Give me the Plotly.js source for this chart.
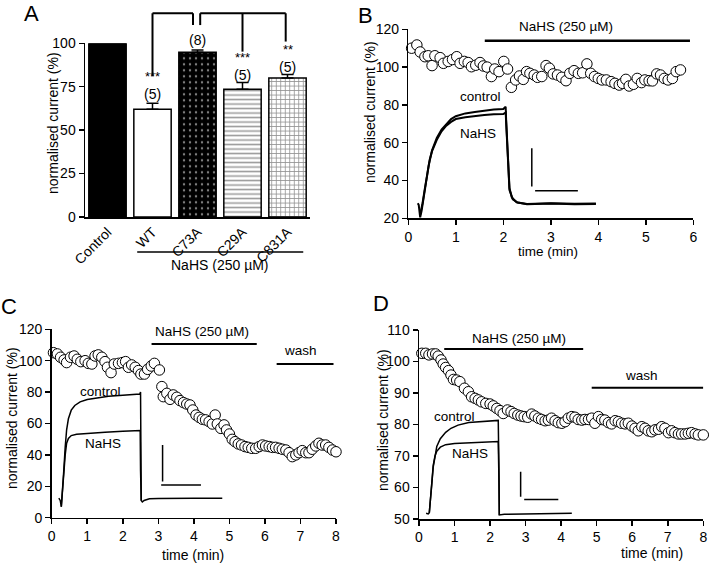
<!DOCTYPE html>
<html>
<head>
<meta charset="utf-8">
<script src="https://cdn.plot.ly/plotly-3.0.1.min.js"></script>
<style>
	html, body { margin: 0; padding: 0; background: #fff; }
	#plot { width: 709px; height: 565px; }
</style>
</head>
<body>
<div id="plot"></div>
<script>
	'use strict';

	// ---- Panel A: bar summary ----
	const aCategories = ['Control', 'WT', 'C73A', 'C29A', 'C831A'];
	const aValues = [100, 62, 94.8, 73.5, 80];
	const aErrors = [0, 3.5, 1.4, 4, 2];
	const aCounts = ['', '(5)', '(8)', '(5)', '(5)'];
	const aStars = ['', '***', '', '***', '**'];

	// ---- Panel B: time course ----
	const bTime = [0.07,0.18,0.25,0.35,0.42,0.5,0.56,0.67,0.74,0.84,0.93,1.02,1.09,1.18,1.26,1.33,1.42,1.51,1.58,1.66,1.75,1.82,1.91,2.01,2.09,2.17,2.26,2.34,2.42,2.49,2.56,2.65,2.72,2.81,2.9,2.97,3.05,3.14,3.23,3.32,3.4,3.49,3.58,3.67,3.76,3.84,3.92,4.0,4.08,4.17,4.27,4.35,4.44,4.51,4.58,4.65,4.74,4.82,4.91,4.98,5.07,5.14,5.23,5.31,5.39,5.47,5.56,5.64,5.73];
	const bCurrent = [110,111.7,108,105.5,106,100.8,106,105,102,103,104,105.5,102,103,102.4,100.2,101,102.4,100.6,100,95,99,97.6,103,99,89.3,93.2,95.3,93.5,97.6,96.7,95.8,94.6,95,100.8,99.4,96.4,95.8,94.6,92.8,96.7,98.1,96.7,97,101.7,96.7,95,94,93.2,93.2,92.3,91.4,90.5,91.4,93.5,90,90.9,94,91.8,93.2,92.8,92.7,96.4,95.8,94,93.2,94,97.6,98.5];
	const bCtrlT = [0.2,0.22,0.25,0.28,0.33,0.38,0.43,0.5,0.6,0.7,0.8,0.9,1.0,1.2,1.4,1.6,1.8,2.0,2.05,2.06,2.08,2.1,2.13,2.18,2.28,2.5,3.0,3.5,3.95];
	const bCtrlI = [28,27,20.5,24,32,40,48,56,62.5,67,70,72.5,74,75.5,76.3,77,77.5,77.8,79,72,60,45,36,31,28.5,27.5,27.8,27.5,27.6];
	const bNahsT = [0.25,0.3,0.35,0.4,0.45,0.5,0.6,0.7,0.8,0.9,1.0,1.2,1.4,1.6,1.8,2.0,2.05,2.06,2.08,2.1,2.13,2.2,2.3,2.5,3.0,3.5,3.95];
	const bNahsI = [22,28,36,44,51,55.5,61.5,66,69,71,72.5,73.5,74.2,74.6,75,75.2,76,70,58,44,35,30,28.3,27.6,28,27.7,27.8];
	const bBarV = { x: [2.6, 2.6], y: [36.8, 57] };
	const bBarH = { x: [2.67, 3.57], y: [34.6, 34.6] };

	// ---- Panel C: time course ----
	const cTime = [0.05,0.16,0.25,0.35,0.42,0.53,0.63,0.72,0.82,0.94,1.03,1.13,1.22,1.31,1.41,1.5,1.57,1.67,1.76,1.88,1.99,2.08,2.16,2.25,2.35,2.44,2.51,2.61,2.7,2.8,2.89,3.03,3.1,3.14,3.24,3.33,3.42,3.52,3.61,3.71,3.8,3.89,3.97,4.06,4.15,4.24,4.33,4.43,4.52,4.6,4.66,4.76,4.85,4.92,5.0,5.08,5.16,5.25,5.34,5.44,5.53,5.63,5.74,5.84,5.93,6.02,6.12,6.21,6.3,6.4,6.49,6.59,6.68,6.77,6.87,6.96,7.05,7.15,7.24,7.33,7.43,7.52,7.61,7.71,7.8,7.9,8.0];
	const cCurrent = [105.1,104.3,102.2,100.5,98.8,102.2,103,100.9,99.4,100,98.3,97.9,103,103.7,102.2,99.4,95.8,92.4,97.9,98.3,98.8,99.4,95.8,97.3,95.8,93.7,91.5,91.5,94.5,96.6,98.3,94.1,83.5,77.1,79.2,75.4,78.2,76.7,74.6,73.3,72.4,71.8,68.6,65.4,63.9,62.7,62.3,61.2,59.7,65.4,59.7,56.9,59.1,55.9,53.3,49.9,48.4,47,46.3,45.3,44.8,44.2,44.2,45.3,46.3,45.7,45.3,44.8,44.8,44.2,43.6,43.1,41.4,38.9,40,41.4,42.7,41.4,41.4,43.6,45.7,47.4,46.3,46.3,44.8,43.1,42];
	const cCtrlT = [0.2,0.24,0.27,0.3,0.34,0.38,0.42,0.47,0.55,0.65,0.8,1.0,1.3,1.6,2.0,2.48,2.5,2.51,2.52,2.55,2.6,2.75,3.0,4.0,4.8];
	const cCtrlI = [12.5,11,7,15,30,45,56,63,68.5,71.5,73.8,75.3,76.5,77.3,78,78.8,80,50,11,10,11,12,12.3,12.4,12.4];
	const cNahsT = [0.27,0.3,0.34,0.38,0.42,0.47,0.55,0.7,1.0,1.5,2.0,2.49,2.5,2.52];
	const cNahsI = [7,14,28,40,47.5,50.5,52.3,53.2,53.8,54.4,55,55.5,30,11];
	const cBarV = { x: [3.12, 3.12], y: [23, 46.3] };
	const cBarH = { x: [3.08, 4.2], y: [20.8, 20.8] };

	// ---- Panel D: time course ----
	const dTime = [0.08,0.19,0.28,0.38,0.47,0.54,0.62,0.68,0.75,0.83,0.9,0.97,1.06,1.15,1.28,1.39,1.48,1.58,1.67,1.76,1.88,2.0,2.09,2.19,2.28,2.37,2.49,2.59,2.68,2.78,2.87,2.96,3.06,3.17,3.26,3.36,3.45,3.55,3.64,3.73,3.83,3.92,4.02,4.11,4.2,4.3,4.39,4.48,4.58,4.67,4.77,4.86,4.95,5.05,5.14,5.23,5.33,5.42,5.52,5.61,5.7,5.8,5.89,5.99,6.08,6.17,6.27,6.36,6.45,6.55,6.64,6.74,6.83,6.92,7.02,7.11,7.2,7.3,7.39,7.49,7.58,7.67,7.77,7.86,8.0];
	const dCurrent = [102.6,102.6,102.1,102.4,102.4,101.7,100.5,99.2,98.1,97.1,95.7,94.3,94.1,93.6,91.5,90.4,88.8,88.3,87.8,87.2,86.7,86.5,85.9,85.1,84.4,83.5,84.6,84.1,83.5,83,82.7,82.5,82.3,83.3,82.7,82,81.6,81.2,81.4,82,81.2,80.6,80.4,80.9,82,82.5,82.3,81.6,81.4,81.6,81.6,82,80.4,82.5,81.6,81.4,80.6,80.2,81.2,80.9,80.4,80.2,80.4,79.5,78.8,78,79.3,78.8,78,77.7,78.3,78.5,79.3,78.8,77.4,78,77.4,77,77,77,77.2,77.4,77,76.7,76.7];
	const dCtrlT = [0.2,0.26,0.29,0.32,0.36,0.4,0.45,0.5,0.6,0.75,0.9,1.1,1.4,1.8,2.23,2.25,2.26,2.4,3.0,4.3];
	const dCtrlI = [51.8,51.6,52,55,61,66.5,70.5,73,75.5,77.5,78.8,79.8,80.6,81,81.3,65,51.3,51.5,51.6,51.8];
	const dNahsT = [0.29,0.32,0.36,0.4,0.45,0.5,0.6,0.75,1.0,1.5,2.23,2.25,2.26];
	const dNahsI = [52,56,62,67,70,71.5,72.8,73.6,74,74.3,74.6,62,51.3];
	const dBarV = { x: [2.86, 2.86], y: [57.1, 65] };
	const dBarH = { x: [2.96, 3.92], y: [56.2, 56.2] };

	// ---- layout geometry (pixels of the 709x565 figure) ----
	const W = 709, H = 565;
	const px = ( x ) => x / W;
	const py = ( y ) => 1 - y / H;
	const FONT = 'Liberation Sans, Arial, sans-serif';

	// value -> fraction of an axis range (for 'y domain' refs outside the plot)
	const frac = ( v, r ) => ( v - r[0] ) / ( r[1] - r[0] );

	const rangeA = [0, 100], rangeB = [20, 120], rangeC = [0, 120], rangeD = [50, 110];

	const axisStyle = {
		showline: true, linecolor: '#000', linewidth: 1.5,
		ticks: 'outside', ticklen: 5, tickwidth: 1.5, tickcolor: '#000',
		showgrid: false, zeroline: false, fixedrange: true,
		tickfont: { family: FONT, size: 14, color: '#000' },
	};

	/**
	* Build the open circle time course + two current traces + scale bars
	*/
	const timePanel = ( xa, ya, t, v, ct, ci, nt, ni, barV, barH, lw ) => {
		const line = { color: '#000', width: lw };
		const common = { xaxis: xa, yaxis: ya, type: 'scatter', mode: 'lines', hoverinfo: 'skip', cliponaxis: false };
		return [
			Object.assign({ x: ct, y: ci, line }, common),
			Object.assign({ x: nt, y: ni, line }, common),
			Object.assign({ x: barV.x, y: barV.y, line: { color: '#000', width: 1.5 } }, common),
			Object.assign({ x: barH.x, y: barH.y, line: { color: '#000', width: 1.5 } }, common),
			{
				x: t, y: v, xaxis: xa, yaxis: ya, type: 'scatter', mode: 'markers', cliponaxis: false,
				marker: { symbol: 'circle', size: 10.5, color: '#fff', line: { color: '#000', width: 1 } },
			},
		];
	};

	// bar fills: solid, open, dotted, horizontal lines, grid
	const barFills = [
		{ color: '#000', pattern: { shape: '' } },
		{ color: '#fff', pattern: { shape: '' } },
		{ color: '#000', pattern: { shape: '.', fgcolor: '#fff', size: 6, solidity: 0.12, fillmode: 'overlay' } },
		{ color: '#fff', pattern: { shape: '-', fgcolor: '#3a3a3a', size: 4.5, solidity: 0.35, fillmode: 'overlay' } },
		{ color: '#fff', pattern: { shape: '+', fgcolor: '#222', size: 4.5, solidity: 0.32, fillmode: 'overlay' } },
	];

	const barTraces = aCategories.map(( c, i ) => ({
		x: [ c ], y: [ aValues[i] ], type: 'bar', xaxis: 'x', yaxis: 'y', width: 0.83,
		error_y: { type: 'data', symmetric: false, array: [ aErrors[i] ], arrayminus: [0], color: '#000', thickness: 1.5, width: 6, visible: aErrors[i] > 0 },
		marker: Object.assign({ line: { color: '#000', width: 1.5 } }, barFills[i] ),
	}));

	const data = barTraces
		.concat( timePanel('x2', 'y2', bTime, bCurrent, bCtrlT, bCtrlI, bNahsT, bNahsI, bBarV, bBarH, 2) )
		.concat( timePanel('x3', 'y3', cTime, cCurrent, cCtrlT, cCtrlI, cNahsT, cNahsI, cBarV, cBarH, 1.5) )
		.concat( timePanel('x4', 'y4', dTime, dCurrent, dCtrlT, dCtrlI, dNahsT, dNahsI, dBarV, dBarH, 1.5) );

	const txt = ( text, x, y, xref, yref, size, extra ) => Object.assign({
		text, x, y, xref, yref, showarrow: false, borderpad: 0,
		font: { family: FONT, size: size || 13, color: '#000' },
		xanchor: 'center', yanchor: 'middle',
	}, extra || {});
	const seg = ( x0, y0, x1, y1, xref, yref, w ) => ({
		type: 'line', x0, y0, x1, y1, xref, yref, line: { color: '#000', width: w || 2 },
	});
	const yTitle = 'normalised current (%)', xTitle = 'time (min)';
	const vert = { textangle: -90 };

	const annotations = [
		// panel letters
		txt('A', px(31), py(13), 'paper', 'paper', 22),
		txt('B', px(365), py(15), 'paper', 'paper', 22),
		txt('C', px(9), py(306), 'paper', 'paper', 22),
		txt('D', px(381), py(303), 'paper', 'paper', 22),
		// axis titles
		txt(yTitle, px(53), py(123), 'paper', 'paper', 14, vert),
		txt(yTitle, px(370), py(112), 'paper', 'paper', 14, vert),
		txt(xTitle, px(548), py(252), 'paper', 'paper', 13.5),
		txt(yTitle, px(12), py(418), 'paper', 'paper', 14, vert),
		txt(xTitle, px(193), py(555), 'paper', 'paper', 14),
		txt(yTitle, px(383), py(420), 'paper', 'paper', 14, vert),
		txt(xTitle, px(652), py(553), 'paper', 'paper', 14),
		// panel A
		txt('NaHS (250 µM)', 2.5, frac(-27.6, rangeA), 'x', 'y domain', 14),
		// panel B
		txt('NaHS (250 µM)', 3.33, frac(121.4, rangeB), 'x2', 'y2 domain', 13.5),
		txt('control', 1.51, 84.3, 'x2', 'y2', 13.5),
		txt('NaHS', 1.47, 65.1, 'x2', 'y2', 13.5),
		// panel C
		txt('NaHS (250 µM)', 4.22, 118.5, 'x3', 'y3', 13.5),
		txt('wash', 6.99, 106.4, 'x3', 'y3', 13.5),
		txt('control', 1.36, 80.3, 'x3', 'y3', 13.5),
		txt('NaHS', 1.45, 47, 'x3', 'y3', 13.5),
		// panel D
		txt('NaHS (250 µM)', 2.8, 107.4, 'x4', 'y4', 13.5),
		txt('wash', 6.27, 95.4, 'x4', 'y4', 13.5),
		txt('control', 1.01, 82.5, 'x4', 'y4', 13.5),
		txt('NaHS', 1.44, 70.8, 'x4', 'y4', 13.5),
	];

	// significance stars (bottom anchored) and n numbers above the bars
	const countY = [0, 71, 102, 82, 86.6];
	aCategories.forEach(( c, i ) => {
		if( aCounts[i] ) annotations.push( txt( aCounts[i], i, frac( countY[i], rangeA ), 'x', 'y domain', 14 ));
		if( aStars[i] ) annotations.push( txt( aStars[i], i, frac( countY[i] + 4.9, rangeA ), 'x', 'y domain', 13, { yanchor: 'bottom' }));
	});

	const fa = ( v ) => frac( v, rangeA );
	const shapes = [
		// panel A comparison brackets
		seg(1, fa(81), 1, fa(117.3), 'x', 'y domain'),
		seg(1, fa(117.3), 1.9, fa(117.3), 'x', 'y domain'),
		seg(1.9, fa(117.3), 1.9, fa(110.5), 'x', 'y domain'),
		seg(2.06, fa(110.5), 2.06, fa(117.3), 'x', 'y domain'),
		seg(2.06, fa(117.3), 3.96, fa(117.3), 'x', 'y domain'),
		seg(3.96, fa(117.3), 3.96, fa(101), 'x', 'y domain'),
		seg(3, fa(117.3), 3, fa(95.2), 'x', 'y domain'),
		// panel A treatment underline
		seg(0.66, fa(-20.1), 4.35, fa(-20.1), 'x', 'y domain', 1.5),
		// treatment bars
		seg(1.61, 114, 5.93, 114, 'x2', 'y2', 2.5),
		seg(2.81, 110.7, 5.77, 110.7, 'x3', 'y3', 2),
		seg(6.33, 97.9, 7.93, 97.9, 'x3', 'y3', 2),
		seg(0.71, 104, 4.62, 104, 'x4', 'y4', 2),
		seg(4.86, 91.7, 8.0, 91.7, 'x4', 'y4', 2),
	];

	const layout = {
		width: W, height: H,
		margin: { l: 0, r: 0, t: 0, b: 0, pad: 0 },
		paper_bgcolor: '#fff', plot_bgcolor: 'rgba(0,0,0,0)',
		showlegend: false,
		font: { family: FONT, color: '#000' },
		barmode: 'overlay',
		xaxis: Object.assign({}, axisStyle, {
			domain: [px(85), px(310)], anchor: 'y', type: 'category', range: [-0.5, 4.5],
			ticks: '', tickangle: -45,
		}),
		yaxis: Object.assign({}, axisStyle, {
			domain: [py(217), py(43.3)], anchor: 'x', range: rangeA, tickvals: [0, 25, 50, 75, 100],
		}),
		xaxis2: Object.assign({}, axisStyle, {
			domain: [px(408.3), px(693.3)], anchor: 'y2', range: [0, 6], dtick: 1,
		}),
		yaxis2: Object.assign({}, axisStyle, {
			domain: [py(218.3), py(29.3)], anchor: 'x2', range: rangeB, dtick: 20,
		}),
		xaxis3: Object.assign({}, axisStyle, {
			domain: [px(51.7), px(336)], anchor: 'y3', range: [0, 8], dtick: 1,
		}),
		yaxis3: Object.assign({}, axisStyle, {
			domain: [py(517.7), py(329.3)], anchor: 'x3', range: rangeC, dtick: 20,
		}),
		xaxis4: Object.assign({}, axisStyle, {
			domain: [px(419), px(703.3)], anchor: 'y4', range: [0, 8], dtick: 1,
		}),
		yaxis4: Object.assign({}, axisStyle, {
			domain: [py(519), py(330)], anchor: 'x4', range: rangeD, dtick: 10,
		}),
		annotations,
		shapes,
	};

	Plotly.newPlot('plot', data, layout, { displayModeBar: false, staticPlot: true });
</script>
</body>
</html>
